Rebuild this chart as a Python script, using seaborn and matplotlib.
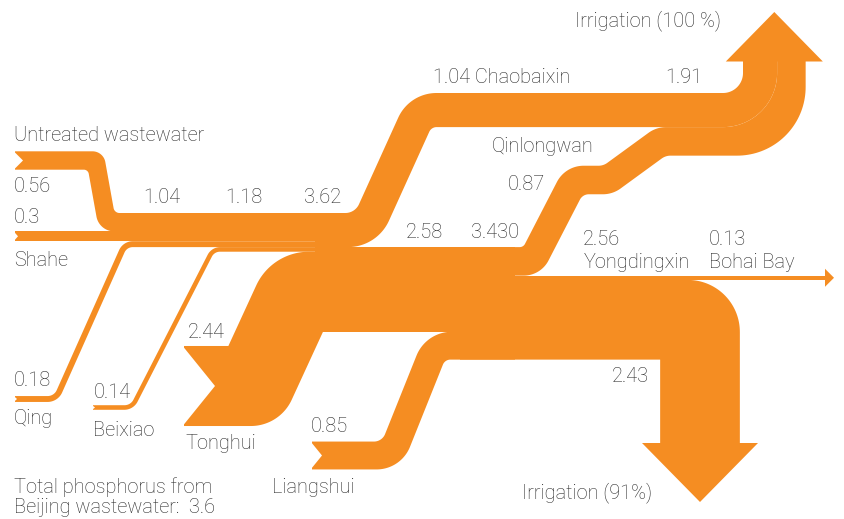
import numpy as np
import matplotlib
matplotlib.use("Agg")
import matplotlib.pyplot as plt
import seaborn as sns

# ---------------- data ----------------
source_names = ["Untreated wastewater", "Shahe", "Qing", "Beixiao", "Tonghui", "Liangshui"]
source_values = [0.56, 0.3, 0.18, 0.14, 2.44, 0.85]
running_totals = [1.04, 1.18, 3.62, 2.58, 3.43]
running_labels = ["1.04", "1.18", "3.62", "2.58", "3.430"]
outflow_names = ["Chaobaixin", "Qinlongwan", "Yongdingxin", "Bohai Bay"]
outflow_values = [1.04, 0.87, 2.56, 0.13]
irrigation_values = [1.91, 2.43]
irrigation_labels = ["Irrigation (100 %)", "Irrigation (91%)"]
total_phosphorus = 3.6

# ---------------- style ----------------
sns.set_theme(style="white")
plt.rcParams["font.family"] = ["Roboto", "DejaVu Sans"]
ORANGE = "#F58D22"
TEXT = "#2a2a2a"
FS = 14.4

fig = plt.figure(figsize=(8.44, 5.19), dpi=100)
ax = fig.add_axes([0, 0, 1, 1])
ax.set_xlim(0, 844)
ax.set_ylim(519, 0)
ax.axis("off")

S = 32.8  # pixels per unit of phosphorus


def offset_polyline(pts, d):
    pts = np.asarray(pts, float)
    seg = pts[1:] - pts[:-1]
    u = seg / np.linalg.norm(seg, axis=1)[:, None]
    n = np.stack([-u[:, 1], u[:, 0]], axis=1)
    out = [pts[0] + n[0] * d]
    for i in range(1, len(pts) - 1):
        p1 = pts[i] + n[i - 1] * d
        p2 = pts[i] + n[i] * d
        A = np.array([u[i - 1], -u[i]]).T
        a, _ = np.linalg.solve(A, p2 - p1)
        out.append(p1 + a * u[i - 1])
    out.append(pts[-1] + n[-1] * d)
    return np.array(out), u, n


def fillet(pts, radii, nseg=40):
    pts = np.asarray(pts, float)
    res = [pts[0]]
    last = len(pts) - 2
    for i in range(1, len(pts) - 1):
        P, A, B = pts[i], pts[i - 1], pts[i + 1]
        r = radii[i - 1]
        v1, v2 = P - A, B - P
        L1, L2 = np.linalg.norm(v1), np.linalg.norm(v2)
        u1, u2 = v1 / L1, v2 / L2
        ang = np.arccos(np.clip(np.dot(u1, u2), -1, 1))
        if r <= 0 or ang < 1e-6:
            res.append(P)
            continue
        t = r * np.tan(ang / 2)
        lim1 = L1 if i == 1 else 0.5 * L1
        lim2 = L2 if i == last else 0.5 * L2
        tmax = 0.98 * min(lim1, lim2)
        if t > tmax:
            t = tmax
            r = t / np.tan(ang / 2)
        T1, T2 = P - u1 * t, P + u2 * t
        cross = u1[0] * u2[1] - u1[1] * u2[0]
        nn = np.array([-u1[1], u1[0]]) if cross > 0 else np.array([u1[1], -u1[0]])
        C = T1 + nn * r
        a1 = np.arctan2(*(T1 - C)[::-1])
        a2 = np.arctan2(*(T2 - C)[::-1])
        da = (a2 - a1 + np.pi) % (2 * np.pi) - np.pi
        th = a1 + np.linspace(0, 1, nseg) * da
        res.extend(np.stack([C[0] + r * np.cos(th), C[1] + r * np.sin(th)], axis=1))
    res.append(pts[-1])
    return np.array(res)


def band(pts, value, corners=(), pad=0.0, z=2):
    w = value * S + pad
    left, u, n = offset_polyline(pts, w / 2)
    right, _, _ = offset_polyline(pts, -w / 2)
    rl, rr = [], []
    for i, (ri, ro) in enumerate(corners):
        if np.dot(n[i], u[i + 1]) > 0:
            rl.append(ri); rr.append(ro)
        else:
            rl.append(ro); rr.append(ri)
    L = fillet(left, rl)
    R = fillet(right, rr)
    poly = np.vstack([L, R[::-1]])
    ax.fill(poly[:, 0], poly[:, 1], color=ORANGE, lw=0, zorder=z)


def notch(x, yc, value, depth):
    h = value * S / 2 + 0.8
    ax.fill([x - 2, x + depth, x - 2], [yc - h, yc, yc + h], color="white", lw=0, zorder=3)


u_v, sh_v, q_v, b_v, t_v, l_v = source_values
c_v, qin_v, y_v, bo_v = outflow_values
irr_up, irr_down = irrigation_values

# ---------------- stacking in the trunk ----------------
T = 213.0
y_u = T + u_v * S / 2
y_sh = T + u_v * S + sh_v * S / 2
y_q = T + (u_v + sh_v) * S + q_v * S / 2
y_b = T + (u_v + sh_v + q_v) * S + b_v * S / 2
y_t = T + (u_v + sh_v + q_v + b_v) * S + t_v * S / 2
y_c = T + c_v * S / 2
y_main = T + c_v * S + running_totals[3] * S / 2
y_l = T + running_totals[2] * S + l_v * S / 2
y_qin = T + c_v * S + qin_v * S / 2
y_bo = T + (c_v + qin_v) * S + bo_v * S / 2
y_irr = T + (c_v + qin_v + bo_v) * S + irr_down * S / 2

ROW = 93.0  # top of the upper route
r_c = ROW + c_v * S / 2
r_qin = ROW + c_v * S + qin_v * S / 2
SHAFT = 743.0
x_c = SHAFT + c_v * S / 2
x_qin = SHAFT + c_v * S + qin_v * S / 2
ARC_IN = 20.0
TRUNK_END = 330

# ---------------- sources ----------------
band([(15, 160.5), (95.7, 160.5), (106.8, y_u), (TRUNK_END, y_u)], u_v, [(5, 13), (6, 18)])
band([(15, y_sh), (TRUNK_END, y_sh)], sh_v)
band([(15, 399), (56, 399), (125, y_q), (TRUNK_END, y_q)], q_v, [(10, 16), (9, 15)])
band([(93, 407.5), (132, 407.5), (213, y_b), (TRUNK_END, y_b)], b_v, [(10, 15), (9, 14)])
band([(184, 386), (254, 386), (297.4, y_t), (TRUNK_END, y_t)], t_v, [(0, 45), (0, 58)])
band([(312, 455.5), (391.5, 455.5), (435.5, y_l), (515, y_l)], l_v, [(12, 36), (8, 38)])

notch(15, 160.5, u_v, 8)
notch(15, y_sh, sh_v, 3)
notch(15, 399, q_v, 2)
notch(93, 407.5, b_v, 2)
notch(184, 386, t_v, 31)
notch(312, 455.5, l_v, 10)

# ---------------- merged flows ----------------
band([(315, y_main), (515, y_main)], running_totals[3], pad=1.0)
band([(460, y_irr), (700, y_irr), (700, 445)], irr_down, [(0, 52)])
band([(315, y_c), (366, y_c), (420.4, r_c), (x_c, r_c), (x_c, 61)], c_v,
     [(15, 45), (8, 42), (ARC_IN, ARC_IN + c_v * S)])
band([(480, y_qin), (532, y_qin), (574, 180), (608, 180), (661, r_qin), (x_qin, r_qin), (x_qin, 61)],
     qin_v, [(6, 28), (10, 30), (15, 30), (15, 30), (ARC_IN + c_v * S, ARC_IN + (c_v + qin_v) * S)])
band([(500, y_bo), (826, y_bo)], bo_v)

# arrows
shaft_c = SHAFT + irr_up * S / 2
ax.fill([shaft_c - 48.5, shaft_c, shaft_c + 48.5], [61.5, 12, 61.5], color=ORANGE, lw=0, zorder=2)
ax.fill([642, 700, 758], [443, 502, 443], color=ORANGE, lw=0, zorder=2)
ax.fill([825, 834, 825], [y_bo - 9, y_bo, y_bo + 9], color=ORANGE, lw=0, zorder=2)

# ---------------- text ----------------
def txt(x, y, s, **kw):
    ax.text(x, y, s, ha="left", va="baseline", fontsize=FS, color=TEXT,
            fontweight="light", zorder=5, **kw)

fmt = lambda v: f"{v:g}"
txt(575, 26.7, irrigation_labels[0])
txt(432.7, 83.3, f"{fmt(c_v)} {outflow_names[0]}")
txt(665, 83.3, fmt(irr_up))
txt(14, 140.7, source_names[0])
txt(492, 151.7, outflow_names[1])
txt(14, 191.7, fmt(u_v))
txt(143, 203.3, running_labels[0])
txt(225, 203.3, running_labels[1])
txt(304, 203.3, running_labels[2])
txt(507.7, 190, fmt(qin_v))
txt(14, 223, fmt(sh_v))
txt(406, 238.3, running_labels[3])
txt(470.7, 238.3, running_labels[4])
txt(583.3, 245, fmt(y_v))
txt(709, 245, fmt(bo_v))
txt(14, 266, source_names[1])
txt(583.3, 268.3, outflow_names[2])
txt(709.3, 268.3, outflow_names[3])
txt(188.3, 338.3, fmt(t_v))
txt(13.3, 386, fmt(q_v))
txt(13.3, 424, source_names[2])
txt(93.3, 398.3, fmt(b_v))
txt(93.3, 436, source_names[3])
txt(185, 449.3, source_names[4])
txt(310.7, 431.7, fmt(l_v))
txt(271.7, 492.7, source_names[5])
txt(612.3, 381.7, fmt(irr_down))
txt(521.7, 498.3, irrigation_labels[1])
txt(14, 492.7, "Total phosphorus from")
txt(14, 513.3, f"Beijing wastewater:  {fmt(total_phosphorus)}")

fig.savefig("out.png", dpi=100)
